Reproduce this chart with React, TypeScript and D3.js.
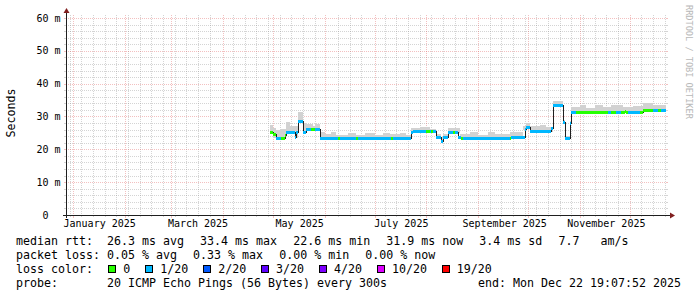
import React from 'react';
import * as d3 from 'd3';

const endTime = Date.UTC(2025, 11, 22, 19, 7, 52);
const spanDays = 360;

const yTickValues = [0, 10, 20, 30, 40, 50, 60];
const yTickLabels = ['0  ', '10 m', '20 m', '30 m', '40 m', '50 m', '60 m'];
const yMinorStep = 2;

const monthLabelDates = ['2025-01-01', '2025-03-01', '2025-05-01', '2025-07-01', '2025-09-01', '2025-11-01'];
const monthLabels = ['January 2025', 'March 2025', 'May 2025', 'July 2025', 'September 2025', 'November 2025'];

// [start date, median ms, loss class index]
const medianSteps: [string, number, number][] = [
  ['2025-04-29', 25.4, 0],
  ['2025-05-01', 24.6, 0],
  ['2025-05-03', 23.4, 1],
  ['2025-05-06', 23.5, 0],
  ['2025-05-08', 24.4, 0],
  ['2025-05-09', 25.4, 1],
  ['2025-05-14', 23.9, 1],
  ['2025-05-15', 25.2, 1],
  ['2025-05-16', 28.6, 1],
  ['2025-05-19', 25.2, 1],
  ['2025-05-21', 26.2, 1],
  ['2025-05-24', 26.2, 0],
  ['2025-05-26', 26.2, 1],
  ['2025-05-29', 23.5, 1],
  ['2025-06-09', 23.5, 0],
  ['2025-06-10', 23.5, 1],
  ['2025-06-20', 23.5, 0],
  ['2025-06-21', 23.5, 1],
  ['2025-07-11', 23.5, 0],
  ['2025-07-12', 23.5, 1],
  ['2025-07-23', 25.2, 1],
  ['2025-07-24', 25.7, 1],
  ['2025-08-01', 25.7, 0],
  ['2025-08-03', 25.7, 1],
  ['2025-08-04', 25.7, 0],
  ['2025-08-05', 25.7, 1],
  ['2025-08-07', 23.9, 1],
  ['2025-08-10', 22.6, 1],
  ['2025-08-11', 23.7, 1],
  ['2025-08-14', 25.4, 1],
  ['2025-08-17', 25.4, 0],
  ['2025-08-18', 25.4, 1],
  ['2025-08-20', 23.7, 1],
  ['2025-08-22', 23.4, 0],
  ['2025-08-23', 23.4, 1],
  ['2025-09-20', 23.4, 0],
  ['2025-09-21', 23.8, 1],
  ['2025-09-29', 26.2, 1],
  ['2025-09-30', 26.9, 1],
  ['2025-10-02', 25.7, 1],
  ['2025-10-15', 26.4, 1],
  ['2025-10-16', 33.5, 1],
  ['2025-10-22', 28.4, 1],
  ['2025-10-23', 23.5, 1],
  ['2025-10-26', 28.1, 1],
  ['2025-10-27', 31.3, 1],
  ['2025-10-30', 31.3, 0],
  ['2025-11-18', 31.3, 1],
  ['2025-11-20', 31.3, 0],
  ['2025-11-23', 31.3, 1],
  ['2025-11-26', 31.3, 0],
  ['2025-11-28', 31.8, 0],
  ['2025-11-29', 31.3, 0],
  ['2025-11-30', 31.3, 1],
  ['2025-12-07', 31.3, 0],
  ['2025-12-09', 32.0, 0],
  ['2025-12-15', 32.0, 1],
  ['2025-12-18', 32.0, 0],
  ['2025-12-20', 31.9, 1],
];

// [start date, lowest ping ms, highest ping ms]
const smokeSteps: [string, number, number][] = [
  ['2025-04-29', 24.8, 27.4],
  ['2025-05-01', 23.5, 26.4],
  ['2025-05-03', 23.0, 25.8],
  ['2025-05-06', 23.1, 26.2],
  ['2025-05-09', 25.0, 28.4],
  ['2025-05-11', 25.0, 27.2],
  ['2025-05-14', 23.5, 27.0],
  ['2025-05-16', 28.2, 31.5],
  ['2025-05-19', 24.9, 27.9],
  ['2025-05-21', 25.9, 27.6],
  ['2025-05-25', 25.9, 27.0],
  ['2025-05-26', 25.9, 27.6],
  ['2025-05-29', 23.2, 25.4],
  ['2025-06-01', 23.2, 24.6],
  ['2025-06-05', 23.2, 25.3],
  ['2025-06-08', 23.2, 24.5],
  ['2025-06-15', 23.2, 25.0],
  ['2025-06-20', 23.2, 24.4],
  ['2025-06-25', 23.2, 25.0],
  ['2025-07-01', 23.2, 24.4],
  ['2025-07-06', 23.2, 25.0],
  ['2025-07-10', 23.2, 24.6],
  ['2025-07-16', 23.2, 25.0],
  ['2025-07-20', 23.2, 24.5],
  ['2025-07-23', 24.9, 26.4],
  ['2025-07-28', 25.4, 26.8],
  ['2025-08-03', 25.4, 26.2],
  ['2025-08-07', 23.6, 24.8],
  ['2025-08-10', 22.3, 23.8],
  ['2025-08-11', 23.4, 24.8],
  ['2025-08-14', 25.1, 26.6],
  ['2025-08-21', 23.2, 24.6],
  ['2025-08-27', 23.2, 25.2],
  ['2025-09-01', 23.2, 24.5],
  ['2025-09-07', 23.2, 25.4],
  ['2025-09-11', 23.2, 24.6],
  ['2025-09-20', 23.5, 25.2],
  ['2025-09-28', 25.9, 27.2],
  ['2025-09-30', 26.6, 27.9],
  ['2025-10-02', 25.4, 27.0],
  ['2025-10-08', 25.4, 27.4],
  ['2025-10-12', 25.4, 26.9],
  ['2025-10-16', 33.2, 34.8],
  ['2025-10-22', 28.1, 29.0],
  ['2025-10-23', 23.2, 24.2],
  ['2025-10-26', 27.8, 28.6],
  ['2025-10-27', 31.0, 33.0],
  ['2025-11-01', 31.0, 33.6],
  ['2025-11-05', 31.0, 32.6],
  ['2025-11-10', 31.0, 33.4],
  ['2025-11-15', 31.0, 32.8],
  ['2025-11-20', 31.0, 33.5],
  ['2025-11-27', 31.0, 33.0],
  ['2025-12-03', 31.0, 33.3],
  ['2025-12-09', 31.7, 34.0],
  ['2025-12-15', 31.7, 33.6],
];

const rttLabel = 'median rtt:';
const rttItems = ['26.3 ms avg', '33.4 ms max', '22.6 ms min', '31.9 ms now', '3.4 ms sd', '7.7   am/s'];
const lossLabel = 'packet loss:';
const lossItems = ['0.05 % avg', '0.33 % max', '0.00 % min', '0.00 % now'];
const lossColorLabel = 'loss color:';
const lossLabels = ['0', '1/20', '2/20', '3/20', '4/20', '10/20', '19/20'];
const lossColors = ['#26ff00', '#00b8ff', '#0059ff', '#5e00ff', '#7e00ff', '#dd00ff', '#ff0000'];
const probeLabel = 'probe:';
const probeText = '20 ICMP Echo Pings (56 Bytes) every 300s';
const endText = 'end: Mon Dec 22 19:07:52 2025';
const yAxisTitle = 'Seconds';
const watermark = 'RRDTOOL / TOBI OETIKER';

const MONO = "'DejaVu Sans Mono', monospace";

const T = (props: any) => <text xmlSpace="preserve" style={{ whiteSpace: 'pre' }} {...props} />;

export default function App() {
  const W = 697;
  const H = 297;
  const left = 66;
  const right = 666;
  const top = 15;
  const bottom = 215;
  const end = new Date(endTime);
  const start = new Date(endTime - spanDays * 86400000);
  const x = d3.scaleUtc().domain([start, end]).range([left, right]);
  const y = d3.scaleLinear().domain([0, 60.9]).range([bottom, top]);
  const px = (v: number) => Math.round(v) + 0.5;

  const minorY = d3.range(0, 61, yMinorStep).filter((v) => v % 10 !== 0);
  const majorY = yTickValues.filter((v) => v !== 0);
  const months = d3.utcMonth.range(start, end);
  const weeks = d3.utcMonday.range(start, end).filter(
    (w) => !months.some((m) => Math.abs(x(m) - x(w)) < 2)
  );

  const minorCol = 'rgba(143,143,143,0.38)';
  const majorCol = 'rgba(222,79,79,0.36)';

  const stepEnd = (arr: any[], i: number) => (i + 1 < arr.length ? new Date(arr[i + 1][0]) : end);

  const medPts: [number, number][] = medianSteps.map((s) => [x(new Date(s[0])), y(s[1])]);
  medPts.push([x(end), y(medianSteps[medianSteps.length - 1][1])]);
  const medLine = d3.line().curve(d3.curveStepAfter)(medPts.map(([a, b]) => [Math.round(a), Math.round(b) + 0.5]));

  const charW = 6.98;
  const itemGap = 16.3;
  const col2 = 107;
  const layoutItems = (items: string[]) => {
    let cx = col2;
    return items.map((t) => {
      const pos = cx;
      cx += t.length * charW + itemGap;
      return pos;
    });
  };
  const rttX = layoutItems(rttItems);
  const lossX = layoutItems(lossItems);
  const boxX: number[] = [];
  {
    let bx = 108.3;
    lossLabels.forEach((l) => {
      boxX.push(bx);
      bx += 15 + l.length * charW + 15;
    });
  }

  const legendRows = [245, 259, 273, 287];

  return (
    <div style={{ position: 'fixed', left: 0, top: 0, width: W, height: H, background: '#fff' }}>
      <svg width={W} height={H} viewBox={`0 0 ${W} ${H}`} style={{ display: 'block', fontFamily: MONO }}>
        <rect x={0} y={0} width={W} height={H} fill="#ffffff" />
        {/* minor grid */}
        <g stroke={minorCol} strokeWidth={1} strokeDasharray="1 1" shapeRendering="crispEdges">
          {minorY.map((v) => (
            <line key={'my' + v} x1={left} x2={right} y1={px(y(v))} y2={px(y(v))} />
          ))}
          {weeks.map((w) => (
            <line key={'wk' + +w} x1={px(x(w))} x2={px(x(w))} y1={top} y2={bottom} />
          ))}
        </g>
        <g stroke={minorCol} strokeWidth={1} shapeRendering="crispEdges">
          {minorY.map((v) => (
            <g key={'mt' + v}>
              <line x1={left - 2} x2={left} y1={px(y(v))} y2={px(y(v))} />
              <line x1={right} x2={right + 2} y1={px(y(v))} y2={px(y(v))} />
            </g>
          ))}
          {weeks.map((w) => (
            <line key={'wt' + +w} x1={px(x(w))} x2={px(x(w))} y1={bottom} y2={bottom + 2} />
          ))}
        </g>
        {/* major grid */}
        <g stroke={majorCol} strokeWidth={1} strokeDasharray="1 1" shapeRendering="crispEdges">
          {majorY.map((v) => (
            <line key={'My' + v} x1={left} x2={right} y1={px(y(v))} y2={px(y(v))} />
          ))}
          {months.map((m) => (
            <line key={'Mx' + +m} x1={px(x(m))} x2={px(x(m))} y1={top} y2={bottom} />
          ))}
        </g>
        <g stroke={majorCol} strokeWidth={1} shapeRendering="crispEdges">
          {majorY.map((v) => (
            <g key={'Mt' + v}>
              <line x1={left - 2} x2={left} y1={px(y(v))} y2={px(y(v))} />
              <line x1={right} x2={right + 2} y1={px(y(v))} y2={px(y(v))} />
            </g>
          ))}
          {months.map((m) => (
            <line key={'Mxt' + +m} x1={px(x(m))} x2={px(x(m))} y1={bottom} y2={bottom + 3} />
          ))}
        </g>

        {/* smoke */}
        <g fill="#d2d2d2" shapeRendering="crispEdges">
          {smokeSteps.map((s, i) => {
            const x0 = Math.round(x(new Date(s[0])));
            const x1 = Math.round(x(stepEnd(smokeSteps, i)));
            const y0 = Math.round(y(s[2]));
            const y1 = Math.round(y(s[1]));
            return <rect key={'s' + i} x={x0} y={y0} width={Math.max(1, x1 - x0)} height={Math.max(1, y1 - y0)} />;
          })}
        </g>
        {/* median line */}
        <path d={medLine || ''} fill="none" stroke="#202020" strokeWidth={1} shapeRendering="crispEdges" />
        {/* loss colored bands */}
        <g shapeRendering="crispEdges">
          {medianSteps.map((s, i) => {
            const x0 = Math.round(x(new Date(s[0])));
            const x1 = Math.round(x(stepEnd(medianSteps, i)));
            const yc = Math.round(y(s[1]));
            return <rect key={'b' + i} x={x0} y={yc - 1} width={Math.max(1, x1 - x0)} height={3} fill={lossColors[s[2]]} />;
          })}
        </g>

        {/* axes */}
        <g stroke="#1f1f1f" strokeWidth={1} shapeRendering="crispEdges">
          <line x1={left + 0.5} x2={left + 0.5} y1={bottom + 3} y2={11} />
          <line x1={left - 3} x2={671} y1={bottom + 0.5} y2={bottom + 0.5} />
        </g>
        <path d={`M${left + 0.5},8 L${left - 2.5},13 L${left + 3.5},13 Z`} fill="#801f1f" />
        <path d={`M675,${bottom + 0.5} L670,${bottom - 2.5} L670,${bottom + 3.5} Z`} fill="#801f1f" />

        {/* y tick labels */}
        <g fontSize={10} fill="#000" textAnchor="end">
          {yTickValues.map((v, i) => (
            <T key={'yl' + v} x={60.5} y={y(v) + 3.6}>
              {yTickLabels[i]}
            </T>
          ))}
        </g>
        {/* x labels */}
        <g fontSize={10} fill="#000" textAnchor="middle">
          {monthLabelDates.map((d, i) => (
            <text key={'xl' + i} x={x(new Date(new Date(d).getTime() + 16 * 86400000))} y={227}>
              {monthLabels[i]}
            </text>
          ))}
        </g>

        {/* axis title */}
        <text transform="translate(15,113) rotate(-90)" fontSize={11.63} textAnchor="middle" fill="#000">
          {yAxisTitle}
        </text>
        {/* watermark */}
        <text transform="translate(686,5) rotate(90)" fontSize={8.6} fill="#b8b8b8">
          {watermark}
        </text>

        {/* legend */}
        <g fontSize={11.63} fill="#000">
          <T x={16} y={legendRows[0]}>{rttLabel}</T>
          {rttItems.map((t, i) => (
            <T key={'r' + i} x={rttX[i]} y={legendRows[0]}>{t}</T>
          ))}
          <T x={16} y={legendRows[1]}>{lossLabel}</T>
          {lossItems.map((t, i) => (
            <T key={'l' + i} x={lossX[i]} y={legendRows[1]}>{t}</T>
          ))}
          <T x={16} y={legendRows[2]}>{lossColorLabel}</T>
          {lossLabels.map((t, i) => (
            <g key={'lc' + i}>
              <rect x={Math.round(boxX[i]) + 0.5} y={265.5} width={7} height={7} fill={lossColors[i]} stroke="#000" strokeWidth={1} />
              <T x={boxX[i] + 15} y={legendRows[2]}>{t}</T>
            </g>
          ))}
          <T x={16} y={legendRows[3]}>{probeLabel}</T>
          <T x={col2} y={legendRows[3]}>{probeText}</T>
          <T x={681} y={legendRows[3]} textAnchor="end">{endText}</T>
        </g>
      </svg>
    </div>
  );
}
